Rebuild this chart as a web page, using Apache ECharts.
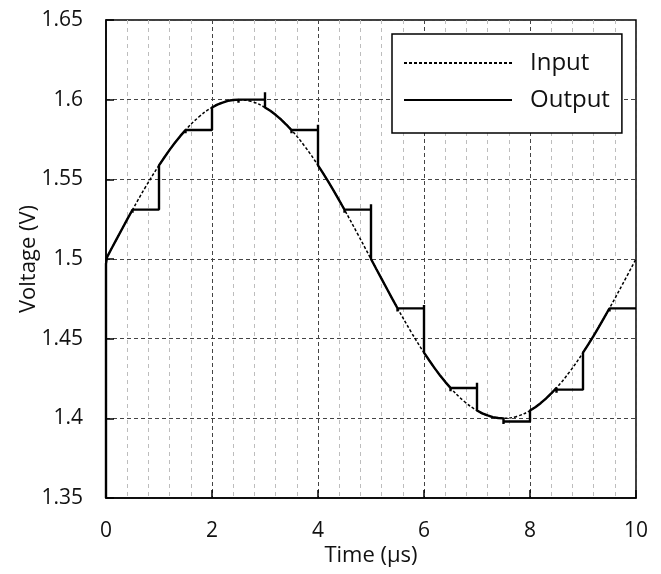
<!DOCTYPE html>
<html>
<head>
<meta charset="utf-8">
<script src="https://cdn.jsdelivr.net/npm/echarts@6/dist/echarts.min.js"></script>
<style>
html,body{margin:0;padding:0;background:#fff;}
#chart{width:661px;height:574px;}
</style>
</head>
<body>
<div id="chart"></div>
<script>
// X axis tick labels and Y axis tick labels
const xTicks = [0, 2, 4, 6, 8, 10];
const yTicks = [1.35, 1.4, 1.45, 1.5, 1.55, 1.6, 1.65];

// Input signal (sampled every 0.25 µs)
const inputT = [0,0.25,0.5,0.75,1,1.25,1.5,1.75,2,2.25,2.5,2.75,3,3.25,3.5,3.75,4,4.25,4.5,4.75,5,
  5.25,5.5,5.75,6,6.25,6.5,6.75,7,7.25,7.5,7.75,8,8.25,8.5,8.75,9,9.25,9.5,9.75,10];
const inputV = [1.5,1.5156,1.5309,1.5454,1.5588,1.5707,1.5809,1.5891,1.5951,1.5988,1.6,1.5988,1.5951,1.5891,
  1.5809,1.5707,1.5588,1.5454,1.5309,1.5156,1.5,1.4844,1.4691,1.4546,1.4412,1.4293,1.4191,1.4109,1.4049,
  1.4012,1.4,1.4012,1.4049,1.4109,1.4191,1.4293,1.4412,1.4546,1.4691,1.4844,1.5];

// Output (track & hold) signal
const outputT = [0,0,0.02,0.1,0.2,0.3,0.4,0.5,0.5,0.5,1,1,
  1.1,1.2,1.3,1.4,1.5,1.5,1.5,2,2,
  2.1,2.2,2.3,2.4,2.5,2.5,2.5,3,3,3,
  3.1,3.2,3.3,3.4,3.5,3.5,3.5,4,4,4,
  4.1,4.2,4.3,4.4,4.5,4.5,4.5,5,5,5,
  5.1,5.2,5.3,5.4,5.5,5.5,5.5,6,6,6,
  6.1,6.2,6.3,6.4,6.5,6.5,6.5,7,7,7,
  7.1,7.2,7.3,7.4,7.5,7.5,7.5,8,8,
  8.1,8.2,8.3,8.4,8.5,8.5,8.5,9,9,
  9.1,9.2,9.3,9.4,9.5,9.5,9.5,10];
const outputV = [1.35,1.497,1.5012,1.5063,1.5125,1.5187,1.5249,1.5309,1.529,1.531,1.531,1.5588,
  1.5637,1.5685,1.5729,1.5771,1.5809,1.579,1.581,1.581,1.5951,
  1.5969,1.5982,1.5992,1.5998,1.6,1.598,1.6,1.6,1.6047,1.5951,
  1.593,1.5905,1.5876,1.5844,1.5809,1.579,1.581,1.581,1.5843,1.5588,
  1.5536,1.5482,1.5426,1.5368,1.5309,1.529,1.531,1.531,1.5343,1.5,
  1.4937,1.4875,1.4813,1.4751,1.4691,1.467,1.469,1.469,1.4711,1.4412,
  1.4363,1.4315,1.4271,1.4229,1.4191,1.417,1.419,1.419,1.4224,1.4049,
  1.4031,1.4018,1.4008,1.4002,1.4,1.3965,1.398,1.398,1.4049,
  1.407,1.4095,1.4124,1.4156,1.4191,1.416,1.418,1.418,1.4412,
  1.4464,1.4518,1.4574,1.4632,1.4691,1.467,1.469,1.469];

const FONT = '"Open Sans", "Noto Sans", sans-serif';
const inputData = inputT.map((t, i) => [t, inputV[i]]);
const outputData = outputT.map((t, i) => [t, outputV[i]]);

const chart = echarts.init(document.getElementById('chart'), null, {renderer: 'canvas'});
chart.setOption({
  animation: false,
  backgroundColor: '#fff',
  grid: {left: 106, right: 25, top: 20, bottom: 76, show: true, borderColor: '#000', borderWidth: 1.5, backgroundColor: 'transparent'},
  legend: {
    orient: 'vertical',
    left: 392, top: 34,
    padding: [14, 12, 18, 11],
    itemGap: 7,
    itemWidth: 108, itemHeight: 14,
    borderColor: '#000', borderWidth: 1.5, backgroundColor: '#fff',
    itemStyle: {opacity: 0},
    textStyle: {fontFamily: FONT, fontSize: 24, color: '#111', lineHeight: 30, padding: [0, 0, 0, 13]},
    data: ['Input', 'Output']
  },
  xAxis: {
    type: 'value', min: xTicks[0], max: xTicks[xTicks.length - 1], interval: 2,
    name: 'Time (µs)', nameLocation: 'middle', nameGap: 47, nameMoveOverlap: false,
    nameTextStyle: {fontFamily: FONT, fontSize: 22, color: '#111'},
    axisLine: {show: true, lineStyle: {color: '#000', width: 1.5}},
    axisTick: {show: true, inside: true, length: 8, lineStyle: {color: '#000', width: 1.5}},
    axisLabel: {fontFamily: FONT, fontSize: 21, color: '#111', margin: 23},
    splitLine: {show: true, lineStyle: {color: '#444', width: 1, type: [4, 3]}},
    minorTick: {show: false, splitNumber: 5},
    minorSplitLine: {show: true, lineStyle: {color: '#bdbdbd', width: 1, type: [4, 4]}}
  },
  yAxis: {
    type: 'value', min: yTicks[0], max: yTicks[yTicks.length - 1], interval: 0.05,
    name: 'Voltage (V)', nameLocation: 'middle', nameGap: 66, nameRotate: 90, nameMoveOverlap: false,
    nameTextStyle: {fontFamily: FONT, fontSize: 22, color: '#111'},
    axisLine: {show: true, lineStyle: {color: '#000', width: 1.5}},
    axisTick: {show: true, inside: true, length: 8, lineStyle: {color: '#000', width: 1.5}},
    axisLabel: {fontFamily: FONT, fontSize: 21, color: '#111', margin: 23,
      formatter: v => String(parseFloat(v.toFixed(2)))},
    splitLine: {show: true, lineStyle: {color: '#444', width: 1, type: [4, 3]}}
  },
  series: [
    {
      name: 'Input', type: 'line', data: inputData, smooth: 0.4, showSymbol: false, symbol: 'none',
      lineStyle: {color: '#000', width: 1.5, type: [3, 2]}, itemStyle: {color: '#000'}, z: 3
    },
    {
      name: 'Output', type: 'line', data: outputData, smooth: false, showSymbol: false, symbol: 'none',
      lineStyle: {color: '#000', width: 2.4}, itemStyle: {color: '#000'}, z: 4
    }
  ]
});
</script>
</body>
</html>
